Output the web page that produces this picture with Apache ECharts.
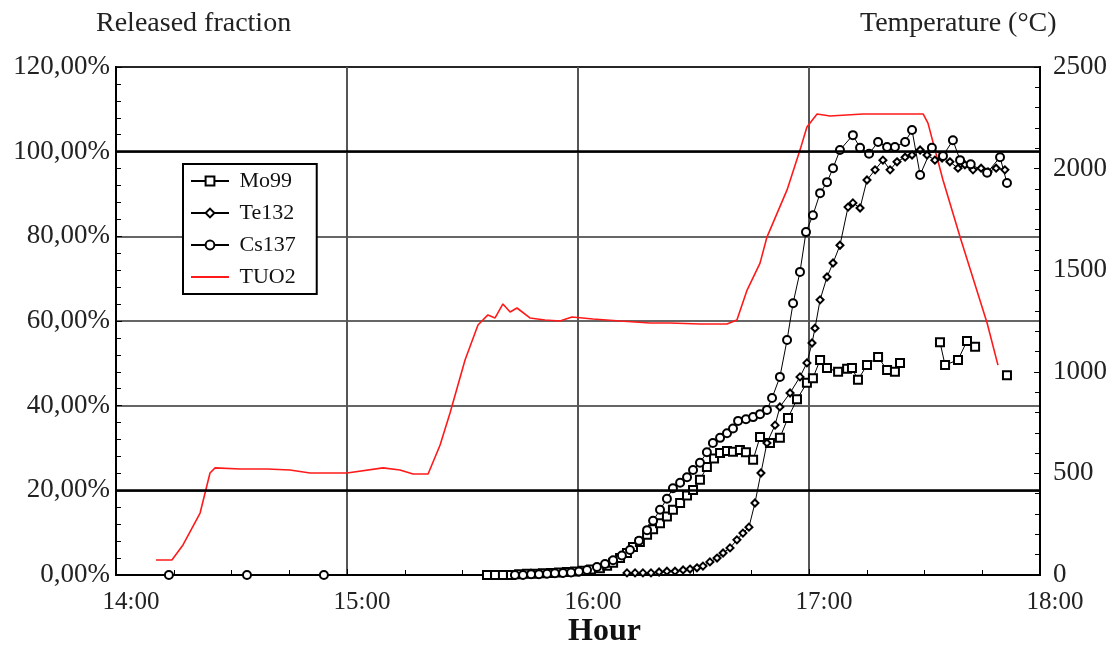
<!DOCTYPE html>
<html>
<head>
<meta charset="utf-8">
<title>Released fraction and fuel temperature</title>
<script src="https://cdn.jsdelivr.net/npm/echarts@6/dist/echarts.min.js"></script>
<style>
  html, body { margin: 0; padding: 0; background: #fff; }
  #chart { width: 1114px; height: 653px; }
</style>
</head>
<body>
<div id="chart"></div>
<script>
// Time in decimal hours, released fraction in %, temperature in °C
const hourTicks = [14, 15, 16, 17, 18];
const boldFractionLines = [20, 100];

const mo99 = [
  [15.606, 0], [15.641, 0], [15.675, 0], [15.710, 0], [15.745, 0.2], [15.779, 0.3],
  [15.814, 0.3], [15.848, 0.4], [15.883, 0.5], [15.918, 0.6], [15.952, 0.7], [15.987, 0.8],
  [16.022, 1.0], [16.056, 1.3], [16.095, 1.6], [16.126, 2.2], [16.152, 2.9], [16.182, 4.0],
  [16.212, 5.2], [16.238, 6.6], [16.268, 7.8], [16.299, 9.5], [16.325, 10.8], [16.355, 12.2],
  [16.385, 13.8], [16.411, 15.4], [16.442, 17.0], [16.472, 18.8], [16.498, 20.1], [16.528, 22.5],
  [16.558, 25.5], [16.589, 27.5], [16.615, 28.8], [16.645, 29.3], [16.671, 29.1], [16.701, 29.5],
  [16.727, 29.0], [16.758, 27.2], [16.788, 32.6], [16.831, 31.2], [16.874, 32.4], [16.909, 37.1],
  [16.948, 41.5], [16.991, 45.4], [17.017, 46.5], [17.048, 50.8], [17.078, 48.9], [17.126, 48.0],
  [17.165, 48.7], [17.186, 48.9], [17.212, 46.1], [17.251, 49.6], [17.299, 51.5], [17.338, 48.4],
  [17.372, 48.0], [17.394, 50.1], [17.480, '-'],
  [17.567, 55.0], [17.589, 49.6], [17.645, 50.8], [17.684, 55.3], [17.719, 53.9], [17.790, '-'],
  [17.857, 47.2]
];

const te132 = [
  [16.212, 0.5], [16.247, 0.5], [16.281, 0.5], [16.316, 0.5], [16.351, 0.7], [16.385, 0.9],
  [16.420, 0.9], [16.455, 1.2], [16.485, 1.4], [16.515, 1.7], [16.541, 2.1], [16.571, 3.1],
  [16.602, 4.0], [16.628, 5.2], [16.658, 6.4], [16.688, 8.3], [16.714, 9.9], [16.740, 11.3],
  [16.766, 17.0], [16.792, 24.1], [16.818, 31.2], [16.853, 35.4], [16.874, 39.7], [16.918, 43.0],
  [16.961, 46.8], [16.991, 50.1], [17.013, 54.8], [17.026, 58.3], [17.048, 65.0], [17.078, 70.4],
  [17.104, 73.7], [17.134, 77.9], [17.169, 86.9], [17.190, 87.9], [17.221, 86.7], [17.251, 93.3],
  [17.286, 95.7], [17.320, 98.0], [17.351, 95.7], [17.381, 97.6], [17.416, 98.7], [17.446, 99.2],
  [17.481, 100.4], [17.511, 99.2], [17.545, 98.0], [17.576, 98.5], [17.610, 97.6], [17.645, 96.1],
  [17.675, 96.9], [17.710, 95.7], [17.745, 96.1], [17.775, 95.2], [17.810, 96.1], [17.848, 95.7]
];

const cs137 = [
  [14.229, 0], [14.567, 0], [14.900, 0],
  [15.727, 0], [15.762, 0], [15.797, 0.2], [15.831, 0.2], [15.866, 0.3], [15.900, 0.4],
  [15.935, 0.5], [15.970, 0.6], [16.004, 0.8], [16.039, 1.2], [16.082, 1.9], [16.117, 2.6],
  [16.152, 3.5], [16.190, 4.6], [16.225, 5.9], [16.264, 8.1], [16.299, 10.6], [16.325, 12.8],
  [16.355, 15.4], [16.385, 18.0], [16.411, 20.5], [16.442, 21.8], [16.472, 23.1], [16.498, 24.8],
  [16.528, 26.5], [16.558, 29.0], [16.584, 31.2], [16.615, 32.4], [16.645, 33.5], [16.671, 34.6],
  [16.693, 36.4], [16.727, 36.8], [16.758, 37.3], [16.788, 38.0], [16.818, 39.0], [16.840, 41.8],
  [16.874, 46.8], [16.905, 55.5], [16.931, 64.2], [16.961, 71.6], [16.987, 81.0], [17.017, 85.0],
  [17.048, 90.2], [17.078, 92.8], [17.104, 96.1], [17.134, 100.4], [17.190, 103.9], [17.221, 100.9],
  [17.260, 99.5], [17.299, 102.3], [17.338, 101.1], [17.372, 101.1], [17.416, 102.3], [17.446, 105.1],
  [17.481, 94.5], [17.532, 100.9], [17.580, 99.0], [17.623, 102.7], [17.654, 98.0], [17.700, 97.0],
  [17.771, 95.0], [17.827, 98.7], [17.857, 92.6]
];

const tuo2 = [
  [14.173, 74], [14.242, 74], [14.290, 148], [14.364, 305], [14.407, 502], [14.429, 527],
  [14.537, 522], [14.654, 522], [14.753, 517], [14.840, 502], [15.000, 502], [15.156, 527],
  [15.229, 517], [15.286, 497], [15.351, 497], [15.403, 640], [15.446, 797], [15.511, 1058],
  [15.567, 1230], [15.610, 1280], [15.641, 1265], [15.675, 1334], [15.706, 1294], [15.736, 1314],
  [15.792, 1265], [15.857, 1255], [15.922, 1250], [15.974, 1270], [16.065, 1260], [16.182, 1250],
  [16.312, 1240], [16.398, 1240], [16.528, 1235], [16.645, 1235], [16.688, 1255], [16.732, 1402],
  [16.788, 1535], [16.818, 1663], [16.905, 1895], [16.961, 2091], [16.991, 2205], [17.035, 2269],
  [17.091, 2259], [17.234, 2269], [17.494, 2269], [17.515, 2224], [17.580, 1944], [17.654, 1663],
  [17.771, 1240], [17.818, 1033]
];

const serif = "'Liberation Serif', 'Times New Roman', serif";
const chart = echarts.init(document.getElementById('chart'), null, { renderer: 'canvas' });

function isotopeSeries(name, data, symbol, size) {
  return {
    name, type: 'line', data, xAxisIndex: 0, yAxisIndex: 0,
    symbol, symbolSize: size, showSymbol: true, connectNulls: false,
    lineStyle: { color: '#000', width: 1 },
    itemStyle: { color: '#000', borderColor: '#000', borderWidth: 1 },
    emphasis: { disabled: true }, animation: false, z: 3
  };
}

const mo99Series = isotopeSeries('Mo99', mo99, 'emptyRect', 8);
// heavier reference lines at 20 % and 100 %
mo99Series.markLine = {
  silent: true, symbol: 'none', label: { show: false }, animation: false,
  lineStyle: { color: '#000', width: 2.5, type: 'solid' },
  data: boldFractionLines.map(v => ({ yAxis: v }))
};

chart.setOption({
  backgroundColor: '#fff',
  animation: false,
  grid: { left: 116, right: 74, top: 67, bottom: 78, show: true, borderColor: '#000', borderWidth: 2, backgroundColor: 'transparent' },
  legend: {
    data: ['Mo99', 'Te132', 'Cs137',
      { name: 'TUO2', itemStyle: { color: 'rgba(0,0,0,0)', borderColor: 'rgba(0,0,0,0)', borderWidth: 0 } }],
    orient: 'vertical', left: 183, top: 164,
    backgroundColor: '#fff', borderColor: '#000', borderWidth: 2,
    padding: [6, 21, 6, 7],
    itemWidth: 38, itemHeight: 11, itemGap: 10,
    formatter: n => ' ' + n,
    textStyle: { fontFamily: serif, fontSize: 22, color: '#111' }
  },
  graphic: [
    { type: 'text', left: 96, top: 10, style: { text: 'Released fraction', font: '28px ' + serif, fill: '#222' } },
    { type: 'text', left: 860, top: 10, style: { text: 'Temperature (°C)', font: '28px ' + serif, fill: '#222' } },
    { type: 'text', left: 568, top: 616, style: { text: 'Hour', font: 'bold 32px ' + serif, fill: '#111' } }
  ],
  xAxis: {
    type: 'value', min: hourTicks[0], max: hourTicks[hourTicks.length - 1], interval: 1,
    axisLine: { show: true, lineStyle: { color: '#000', width: 2 } },
    axisTick: { show: true, inside: true, length: 6, lineStyle: { color: '#000' } },
    minorTick: { show: true, splitNumber: 4, length: 5, lineStyle: { color: '#000' } },
    axisLabel: { margin: 15, padding: [0, 0, 0, 30], fontFamily: serif, fontSize: 25, color: '#222', formatter: v => v + ':00' },
    splitLine: { show: true, lineStyle: { color: '#555', width: 2 } }
  },
  yAxis: [
    {
      type: 'value', min: 0, max: 120, interval: 20, position: 'left',
      axisLine: { show: true, lineStyle: { color: '#000', width: 2 } },
      axisTick: { show: true, inside: true, length: 6, lineStyle: { color: '#000' } },
      minorTick: { show: true, splitNumber: 5, length: 5, lineStyle: { color: '#000' } },
      axisLabel: { margin: 6, fontFamily: serif, fontSize: 27, color: '#222', formatter: v => v.toFixed(2).replace('.', ',') + '%' },
      splitLine: { show: true, lineStyle: { color: '#333', width: 1.5 } }
    },
    {
      type: 'value', min: 0, max: 2500, interval: 500, position: 'right',
      axisLine: { show: true, lineStyle: { color: '#000', width: 2 } },
      axisTick: { show: true, inside: true, length: 6, lineStyle: { color: '#000' } },
      minorTick: { show: true, splitNumber: 5, length: 5, lineStyle: { color: '#000' } },
      axisLabel: { margin: 13, fontFamily: serif, fontSize: 27, color: '#222', formatter: v => String(v) },
      splitLine: { show: false }
    }
  ],
  series: [
    mo99Series,
    isotopeSeries('Te132', te132, 'emptyDiamond', 7),
    isotopeSeries('Cs137', cs137, 'emptyCircle', 8),
    {
      name: 'TUO2', type: 'line', data: tuo2, yAxisIndex: 1,
      symbol: 'none', showSymbol: false,
      lineStyle: { color: '#ff1a1a', width: 1.6 },
      itemStyle: { color: '#ff1a1a' },
      emphasis: { disabled: true }, z: 2
    }
  ]
});
</script>
</body>
</html>
